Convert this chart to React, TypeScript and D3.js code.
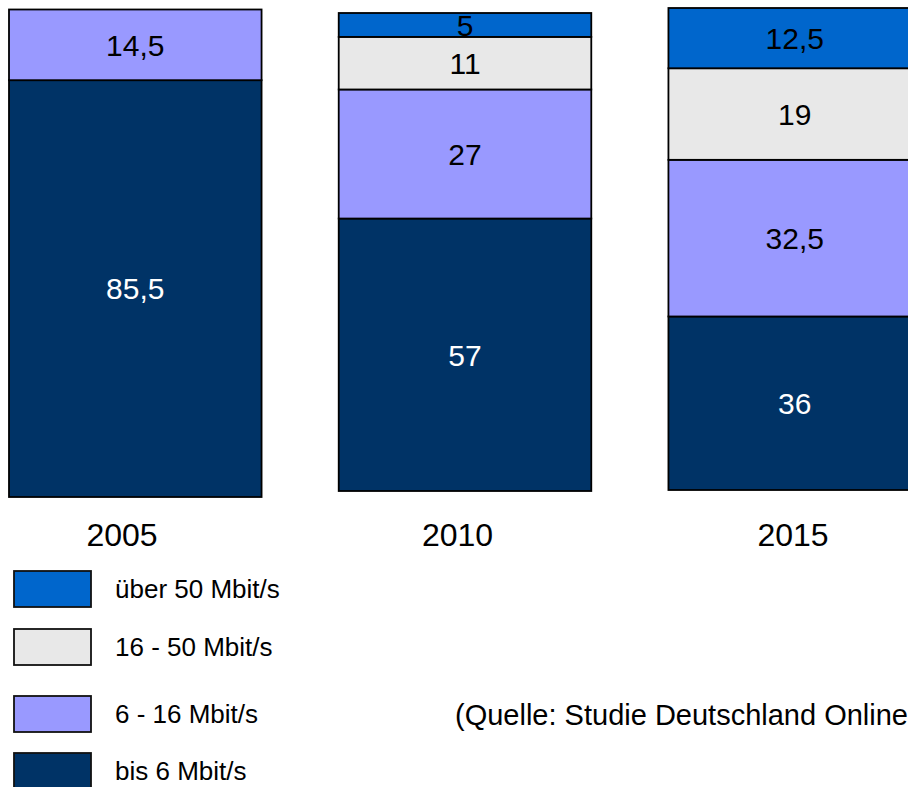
import * as d3 from 'd3';

const years = ['2005', '2010', '2015'];
const bis6 = [85.5, 57, 36];
const mbit6to16 = [14.5, 27, 32.5];
const mbit16to50 = [0, 11, 19];
const ueber50 = [0, 5, 12.5];

const seriesKeys = ['bis6', 'mbit6to16', 'mbit16to50', 'ueber50'];
const seriesLabels = ['bis 6 Mbit/s', '6 - 16 Mbit/s', '16 - 50 Mbit/s', 'über 50 Mbit/s'];
const seriesColors = ['#003366', '#9999ff', '#e8e8e8', '#0066cc'];
const labelColors = ['#ffffff', '#000000', '#000000', '#000000'];

const sourceText = '(Quelle: Studie Deutschland Online';

// layout of the slide: each bar was drawn a little differently
const layout = {
  width: 908,
  height: 787,
  barTop: [9.5, 13, 8],
  barBottom: [497, 491, 490],
  legendY: [589, 647, 714, 771],
};

const font = '"Liberation Sans", Arial, Helvetica, sans-serif';

export default function App() {
  const rows = years.map((year, i) => ({
    year,
    bis6: bis6[i],
    mbit6to16: mbit6to16[i],
    mbit16to50: mbit16to50[i],
    ueber50: ueber50[i],
  }));

  const stacked = d3.stack<any>().keys(seriesKeys)(rows);

  const x = d3.scaleBand().domain(years).range([9, 921]).paddingInner(0.234).paddingOuter(0);
  const xLabel = d3.scalePoint().domain(years).range([122, 793]);

  const yFor = (i: number) =>
    d3.scaleLinear().domain([0, 100]).range([layout.barBottom[i], layout.barTop[i]]);

  const fmt = (v: number) => String(v).replace('.', ',');

  // legend drawn top to bottom: highest band first
  const legendOrder = [3, 2, 1, 0];

  return (
    <svg
      width={layout.width}
      height={layout.height}
      style={{ position: 'absolute', left: 0, top: 0, background: '#fff' }}
      fontFamily={font}
    >
      {stacked.map((series, si) => (
        <g key={series.key}>
          {series.map((d, i) => {
            const v = d[1] - d[0];
            if (v <= 0) return null;
            const y = yFor(i);
            const x0 = x(years[i]) as number;
            const y0 = y(d[1]);
            const h = y(d[0]) - y(d[1]);
            return (
              <g key={years[i]}>
                <rect
                  x={x0}
                  y={y0}
                  width={x.bandwidth()}
                  height={h}
                  fill={seriesColors[si]}
                  stroke="#000"
                  strokeWidth={1.8}
                />
                <text
                  x={x0 + x.bandwidth() / 2}
                  y={y0 + h / 2}
                  dy="0.36em"
                  textAnchor="middle"
                  fontSize={30}
                  fill={labelColors[si]}
                >
                  {fmt(v)}
                </text>
              </g>
            );
          })}
        </g>
      ))}

      {years.map((year) => (
        <text
          key={year}
          x={xLabel(year)}
          y={534}
          dy="0.36em"
          textAnchor="middle"
          fontSize={32}
          fill="#000"
        >
          {year}
        </text>
      ))}

      {legendOrder.map((si, k) => (
        <g key={seriesKeys[si]} transform={`translate(0,${layout.legendY[k]})`}>
          <rect
            x={14}
            y={-18}
            width={77}
            height={36}
            fill={seriesColors[si]}
            stroke="#111"
            strokeWidth={1.8}
          />
          <text x={115} y={0} dy="0.36em" fontSize={26} fill="#000">
            {seriesLabels[si]}
          </text>
        </g>
      ))}

      <text x={455} y={715} dy="0.36em" fontSize={29} fill="#000">
        {sourceText}
      </text>
    </svg>
  );
}
